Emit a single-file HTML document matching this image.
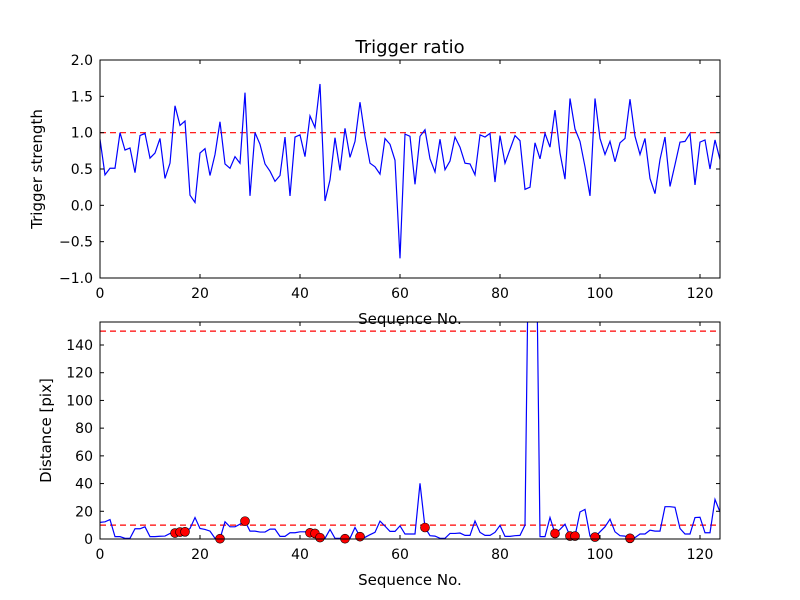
<!DOCTYPE html>
<html><head><meta charset="utf-8"><style>
body{margin:0;background:#fff}
svg{display:block;font-family:"DejaVu Sans","Liberation Sans",sans-serif}
</style></head><body>
<svg id="chart" width="800" height="600"></svg>
<script>
const seqTop = [0.91,0.42,0.51,0.51,1.0,0.76,0.79,0.45,0.96,0.99,0.65,0.72,0.92,0.37,0.58,1.37,1.1,1.16,0.14,0.04,0.72,0.78,0.41,0.70,1.15,0.57,0.51,0.67,0.58,1.55,0.13,1.0,0.84,0.57,0.47,0.33,0.41,0.94,0.13,0.94,0.97,0.67,1.23,1.07,1.67,0.06,0.35,0.93,0.48,1.06,0.66,0.88,1.42,0.95,0.58,0.53,0.43,0.92,0.84,0.62,-0.73,0.98,0.95,0.29,0.95,1.04,0.64,0.46,0.91,0.49,0.61,0.94,0.80,0.58,0.57,0.42,0.97,0.94,0.99,0.32,0.96,0.58,0.77,0.96,0.89,0.22,0.25,0.86,0.64,0.99,0.80,1.31,0.72,0.36,1.47,1.05,0.88,0.53,0.13,1.47,0.92,0.70,0.88,0.60,0.86,0.92,1.46,0.95,0.70,0.92,0.37,0.16,0.63,0.94,0.26,0.56,0.87,0.88,0.99,0.28,0.87,0.90,0.50,0.90,0.63];
const distance = [12,12.4,14,1.7,1.7,0.5,0.5,7.4,7.4,8.8,1.7,1.7,2,2.1,4,4.3,5,5.2,7.6,15.5,7.6,6.9,5.7,0.5,0.2,12.4,8.8,8.8,10.7,12.9,5.7,5.7,5,5,7.1,7.1,1.9,1.9,4.5,4.5,5.2,5.2,4.5,4,1,0.5,6.9,0.5,0.5,0.2,0.5,8.3,1.7,1.2,3.1,4.8,12.9,9.3,5.5,5.5,9.5,3.6,3.6,3.6,40.2,8.3,2.4,2.1,0.5,0.5,4,4,4.3,2.6,2.6,13,4.8,2.6,2.6,4.8,9.8,1.9,1.9,2.4,2.6,10,300,300,1.7,1.7,15.5,4,6.9,10.7,2.1,2.1,19.5,21.4,2.1,1.4,5.2,8.8,14.3,5.2,2.4,2.1,0.5,1,3.6,3.6,6.4,5.7,5.7,23.3,23.3,22.9,7.6,3.6,3.6,15.5,15.7,4.5,4.5,28.6,19.5];
const markerIdx = [15,16,17,24,29,42,43,44,49,52,65,91,94,95,99,106];
const xTicks = [0,20,40,60,80,100,120];
const topYTicks = [-1.0,-0.5,0.0,0.5,1.0,1.5,2.0];
const botYTicks = [0,20,40,60,80,100,120,140];
const topThresh = [1.0];
const botThresh = [10,150];

const NS="http://www.w3.org/2000/svg";
const svg=document.getElementById('chart');
function mk(tag,attrs,parent){const e=document.createElementNS(NS,tag);for(const k in attrs)e.setAttribute(k,attrs[k]);(parent||svg).appendChild(e);return e;}
const L=100,R=720,XMAX=124;
const sx=v=>L+(v/XMAX)*(R-L);
function panel(top,bot,ymin,ymax,yticks,fmt,data,thresh,ylabel,prefix,markers){
  const sy=v=>bot-(v-ymin)/(ymax-ymin)*(bot-top);
  const g=mk('g',{});
  
  
  const clipId=prefix+'-clip';
  const cp=mk('clipPath',{id:clipId},g);mk('rect',{x:L,y:top,width:R-L,height:bot-top},cp);
  thresh.forEach(t=>{const l=mk('line',{x1:L,x2:R,y1:sy(t),y2:sy(t),stroke:'#ff0000','stroke-width':1.2,'stroke-dasharray':'6,4'},g);
    });
  const pts=data.map((v,i)=>sx(i).toFixed(2)+','+sy(v).toFixed(2)).join(' ');
  const pl=mk('polyline',{points:pts,fill:'none',stroke:'#0000ff','stroke-width':1.2,'clip-path':'url(#'+clipId+')'},g);
  
  (markers||[]).forEach(i=>{const c=mk('circle',{cx:sx(i),cy:sy(data[i]),r:4.5,fill:'#ff0000',stroke:'#000','stroke-width':0.6},g);
    });
  const fr=mk('rect',{x:L,y:top,width:R-L,height:bot-top,fill:'none',stroke:'#000','stroke-width':1},g);
  
  xTicks.forEach(t=>{const x=sx(t);
    mk('line',{x1:x,x2:x,y1:bot,y2:bot-4,stroke:'#000'},g);mk('line',{x1:x,x2:x,y1:top,y2:top+4,stroke:'#000'},g);
    const tx=mk('text',{x:x,y:bot+20,'text-anchor':'middle','font-size':14},g);tx.textContent=t;
    });
  yticks.forEach(t=>{const y=sy(t);
    mk('line',{x1:L,x2:L+4,y1:y,y2:y,stroke:'#000'},g);mk('line',{x1:R,x2:R-4,y1:y,y2:y,stroke:'#000'},g);
    const tx=mk('text',{x:L-7,y:y+5,'text-anchor':'end','font-size':14},g);tx.textContent=fmt(t);
    });
  const xl=mk('text',{x:(L+R)/2,y:bot+46,'text-anchor':'middle','font-size':15},g);xl.textContent='Sequence No.';
  
  const cy=(top+bot)/2;
  const yl=mk('text',{x:0,y:0,'text-anchor':'middle','font-size':15,transform:'translate('+(prefix==='top'?42:51)+','+cy+') rotate(-90)'},g);yl.textContent=ylabel;
  
}
const fmtNeg=t=>(t<0?'\u2212'+Math.abs(t).toFixed(1):t.toFixed(1));
panel(60,278,-1,2,topYTicks,fmtNeg,seqTop,topThresh,'Trigger strength','top',null);
panel(322,539,0,156.6,botYTicks,t=>String(t),distance,botThresh,'Distance [pix]','bottom',markerIdx);
const title=mk('text',{x:410,y:53,'text-anchor':'middle','font-size':18});title.textContent='Trigger ratio';


</script>
</body></html>
